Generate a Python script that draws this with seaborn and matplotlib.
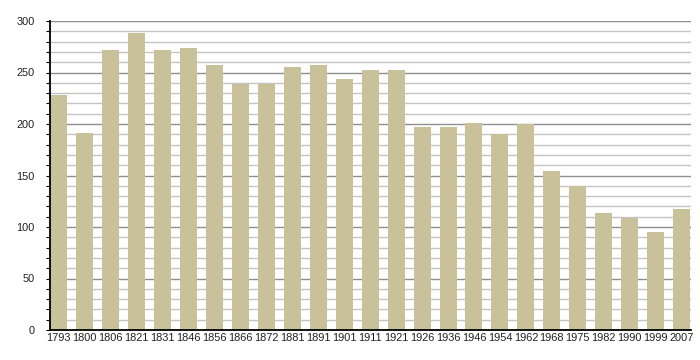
import numpy as np
import pandas as pd
import matplotlib
matplotlib.use("Agg")
import matplotlib.pyplot as plt
import seaborn as sns
from matplotlib.ticker import MultipleLocator

# Data
years = ["1793", "1800", "1806", "1821", "1831", "1846", "1856", "1866", "1872",
         "1881", "1891", "1901", "1911", "1921", "1926", "1936", "1946", "1954",
         "1962", "1968", "1975", "1982", "1990", "1999", "2007"]
population = [228, 191, 272, 288, 272, 274, 257, 239, 239,
              255, 257, 244, 252, 252, 197, 197, 201, 190,
              200, 154, 140, 114, 109, 95, 117]

df = pd.DataFrame({"year": years, "pop": population})

sns.set_style("white")
plt.rcParams['font.family'] = ['Liberation Sans', 'DejaVu Sans']

fig = plt.figure(figsize=(7, 3.6), dpi=100)
ax = fig.add_axes([50 / 700, 1 - 330 / 360, 641 / 700, 309 / 360])

# grid lines behind the bars
for v in range(10, 301, 10):
    if v % 50 == 0:
        ax.axhline(v, color="#8f8f8f", lw=1.0, zorder=0)
    else:
        ax.axhline(v, color="#c4c4c4", lw=1.0, zorder=0)

w = 0.655
sns.barplot(data=df, x="year", y="pop", color="#c9c199", width=w,
            saturation=1, linewidth=0, ax=ax, zorder=2)

ax.set_xlim(-w / 2, len(years) - 1 + w / 2 + 0.03)
ax.set_ylim(0, 300)
ax.yaxis.set_major_locator(MultipleLocator(50))
ax.yaxis.set_minor_locator(MultipleLocator(10))
ax.tick_params(axis="y", which="major", length=3, width=0.8, color="black",
               labelsize=7.9, pad=8, left=True, labelcolor="#222222")
ax.tick_params(axis="y", which="minor", length=3, width=0.8, color="black", left=True)
ax.tick_params(axis="x", length=0, labelsize=7.9, pad=2.5, labelcolor="#222222")
ax.set_xlabel("")
ax.set_ylabel("")

for s in ["top", "right"]:
    ax.spines[s].set_visible(False)
ax.spines["left"].set_color("black")
ax.spines["bottom"].set_color("black")
ax.spines["left"].set_linewidth(1.3)
ax.spines["bottom"].set_linewidth(1.3)
ax.spines["left"].set_zorder(3)
ax.spines["bottom"].set_zorder(3)

fig.savefig("out.png", dpi=100)
